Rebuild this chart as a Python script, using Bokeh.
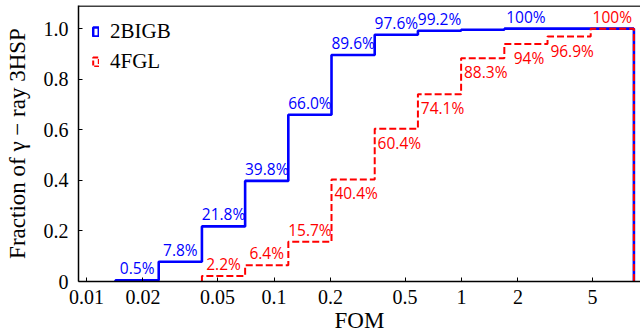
import math
from bokeh.plotting import figure
from bokeh.models import ColumnDataSource, FixedTicker, Span, Legend, LegendItem, Range1d
from bokeh.core.properties import value
from bokeh.embed import file_html
from bokeh.resources import INLINE

# ---- data ----
fom_edges = [0.01428, 0.02427, 0.04125, 0.07013, 0.1192, 0.2026, 0.3444,
             0.5855, 0.9952, 1.692, 2.876, 4.888, 8.309]
bigb_frac = [0.005, 0.078, 0.218, 0.398, 0.660, 0.896, 0.976, 0.992, 0.996, 1.0, 1.0, 1.0]
bigb_labels = ["0.5%", "7.8%", "21.8%", "39.8%", "66.0%", "89.6%", "97.6%", "99.2%",
               "", "100%", "", ""]
fgl_frac = [0.0, 0.0, 0.022, 0.064, 0.157, 0.404, 0.604, 0.741, 0.883, 0.94, 0.969, 1.0]
fgl_labels = ["", "", "2.2%", "6.4%", "15.7%", "40.4%", "60.4%", "74.1%", "88.3%",
              "94%", "96.9%", "100%"]
series_names = ["2BIGB", "4FGL"]
x_ticks = [0.01, 0.02, 0.05, 0.1, 0.2, 0.5, 1, 2, 5]
x_tick_labels = ["0.01", "0.02", "0.05", "0.1", "0.2", "0.5", "1", "2", "5"]
y_ticks = [0, 0.2, 0.4, 0.6, 0.8, 1.0]
y_tick_labels = ["0", "0.2", "0.4", "0.6", "0.8", "1.0"]

BLUE = "#0000ff"
RED = "#ff0000"
SERIF = "Liberation Serif"


def outline(edges, vals):
    first = next(i for i, v in enumerate(vals) if v > 0)
    xs = [edges[first]]
    ys = [0.0]
    for i in range(first, len(vals)):
        xs += [edges[i], edges[i + 1]]
        ys += [vals[i], vals[i]]
    xs.append(edges[-1])
    ys.append(0.0)
    return xs, ys


centers = [math.sqrt(fom_edges[i] * fom_edges[i + 1]) for i in range(len(fom_edges) - 1)]

p = figure(width=640, height=336, x_axis_type="log",
           x_range=Range1d(0.00906, 9.01), y_range=Range1d(0, 1.092),
           output_backend="svg", toolbar_location=None,
           min_border_left=78, min_border_right=0, min_border_top=5, min_border_bottom=55)
p.grid.visible = False
p.outline_line_color = None
p.background_fill_color = "white"
p.border_fill_color = "white"

# legend proxies: degenerate boxes lying exactly on the top plateau of each curve
pb_src = ColumnDataSource(dict(l=[fom_edges[9]], r=[fom_edges[12]],
                               b=[bigb_frac[11]], t=[bigb_frac[11]]))
pr_src = ColumnDataSource(dict(l=[fom_edges[11]], r=[fom_edges[12]],
                               b=[fgl_frac[11]], t=[fgl_frac[11]]))
pb = p.quad(left="l", right="r", bottom="b", top="t", source=pb_src,
            fill_alpha=0, line_color=BLUE, line_width=2.5)
pr = p.quad(left="l", right="r", bottom="b", top="t", source=pr_src,
            fill_alpha=0, line_color=RED, line_width=2, line_dash="5 2")

# step outlines
bx, by = outline(fom_edges, bigb_frac)
rx, ry = outline(fom_edges, fgl_frac)
p.line(bx, by, line_color=BLUE, line_width=2.6)
p.line(rx, ry, line_color=RED, line_width=2, line_dash="7 3")

# labels
FONT = value("Open Sans")
b_src = ColumnDataSource(dict(
    x=[c for c, t in zip(centers, bigb_labels) if t],
    y=[v for v, t in zip(bigb_frac, bigb_labels) if t],
    text=[t for t in bigb_labels if t]))
p.text(x="x", y="y", text="text", source=b_src, text_color=BLUE,
       text_font=FONT, text_font_size="15.5px",
       text_align="center", text_baseline="bottom", y_offset=-1)

above = [(c, v, t) for c, v, t in zip(centers, fgl_frac, fgl_labels) if t and not (0.3 < v < 1.0)]
below = [(c, v, t) for c, v, t in zip(centers, fgl_frac, fgl_labels) if t and (0.3 < v < 1.0)]
ra_src = ColumnDataSource(dict(x=[a[0] for a in above], y=[a[1] for a in above], text=[a[2] for a in above]))
rb_src = ColumnDataSource(dict(x=[a[0] for a in below], y=[a[1] for a in below], text=[a[2] for a in below]))
p.text(x="x", y="y", text="text", source=ra_src, text_color=RED,
       text_font=FONT, text_font_size="15.5px",
       text_align="center", text_baseline="bottom", y_offset=-1)
p.text(x="x", y="y", text="text", source=rb_src, text_color=RED,
       text_font=FONT, text_font_size="15.5px",
       text_align="center", text_baseline="top", y_offset=3, x_offset=3)

# top spine
p.add_layout(Span(location=1.0905, dimension="width", line_color="black", line_width=1.5))

# axes
p.xaxis.ticker = FixedTicker(ticks=x_ticks)
p.xaxis.major_label_overrides = {t: l for t, l in zip(x_ticks, x_tick_labels)}
p.yaxis.ticker = FixedTicker(ticks=y_ticks)
p.yaxis.major_label_overrides = {t: l for t, l in zip(y_ticks, y_tick_labels)}
p.xaxis.axis_label = "FOM"
p.yaxis.axis_label = "Fraction of γ − ray 3HSP"
for ax in (p.xaxis[0], p.yaxis[0]):
    ax.major_tick_in = 4
    ax.major_tick_out = 0
    ax.minor_tick_in = 0
    ax.minor_tick_out = 0
    ax.axis_line_width = 1.5
    ax.axis_line_color = "black"
    ax.major_tick_line_color = "black"
    ax.major_tick_line_width = 1
    ax.major_label_text_font = SERIF
    ax.major_label_text_font_size = "20px"
    ax.major_label_text_color = "black"
    ax.axis_label_text_font = SERIF
    ax.axis_label_text_font_size = "23px"
    ax.axis_label_text_font_style = "normal"
    ax.axis_label_text_color = "black"
p.xaxis.major_label_standoff = 8
p.xaxis.axis_label_standoff = 1
p.yaxis.major_label_standoff = 10
p.yaxis.axis_label_standoff = 11

legend = Legend(items=[LegendItem(label=series_names[0], renderers=[pb]),
                       LegendItem(label=series_names[1], renderers=[pr])],
                location="top_left")
legend.margin = 14
legend.padding = 1
legend.spacing = 5
legend.glyph_width = 7
legend.glyph_height = 11
legend.label_height = 20
legend.label_standoff = 11
legend.label_text_font = SERIF
legend.label_text_font_size = "21px"
legend.label_text_color = "black"
legend.border_line_color = None
legend.background_fill_alpha = 0
p.add_layout(legend)

open("out.html", "w").write(file_html(p, INLINE))
